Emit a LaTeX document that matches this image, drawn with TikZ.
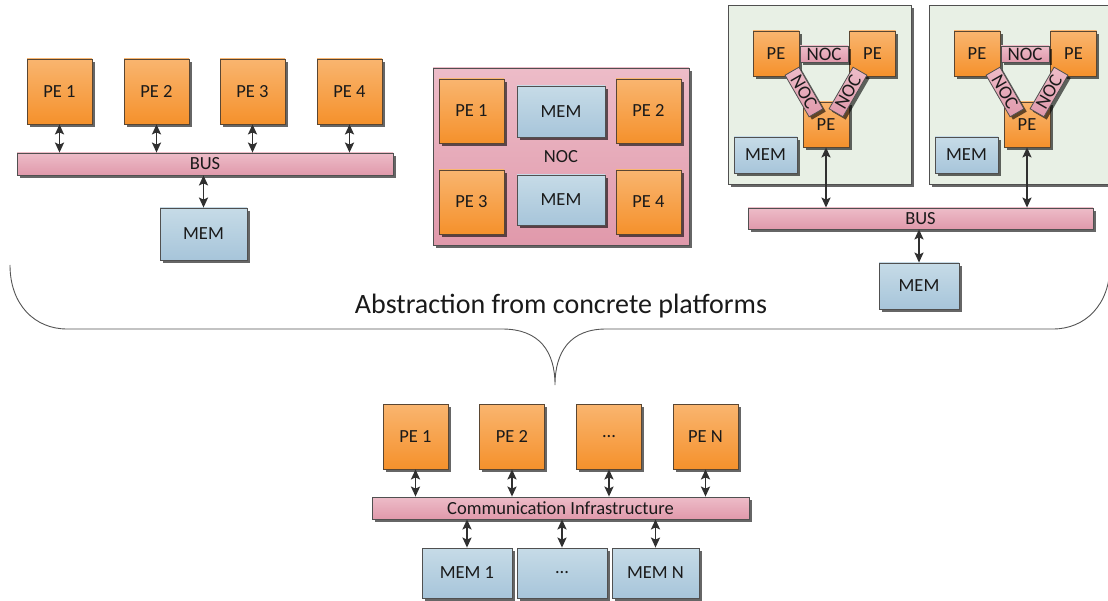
\documentclass[tikz,border=0pt]{standalone}
\usepackage{fontspec}
\setmainfont{Carlito}
\usetikzlibrary{arrows.meta,shadows}

\definecolor{peTop}{HTML}{F9B56F}
\definecolor{peBot}{HTML}{F5912C}
\definecolor{peLine}{HTML}{5A4632}
\definecolor{pkTop}{HTML}{EDBCC8}
\definecolor{pkBot}{HTML}{E099AB}
\definecolor{blTop}{HTML}{C6DBE7}
\definecolor{blBot}{HTML}{A7C5DA}
\definecolor{grFill}{HTML}{E8F0E5}
\definecolor{boxLine}{HTML}{505050}
\definecolor{arrowC}{HTML}{303030}
\definecolor{braceC}{HTML}{555555}
\definecolor{txt}{HTML}{1A1A1A}

\tikzset{
  box/.style={draw=boxLine, line width=0.8pt, inner sep=0pt, text=txt,
    font=\fontsize{18.5}{20}\selectfont,
    drop shadow={shadow xshift=2.8pt, shadow yshift=-2.8pt, fill=black, opacity=0.6}},
  pebox/.style={box, draw=peLine, top color=peTop, bottom color=peBot},
  membox/.style={box, top color=blTop, bottom color=blBot},
  pinkbox/.style={box, top color=pkTop, bottom color=pkBot},
  panel/.style={box, fill=grFill},
  nocbar/.style={pinkbox, minimum width=48pt, minimum height=16pt,
    font=\fontsize{19}{20}\selectfont},
  link/.style={draw=arrowC, line width=1.7pt,
    {Stealth[length=10pt,width=9pt,inset=2pt]}-{Stealth[length=10pt,width=9pt,inset=2pt]}},
  brace/.style={draw=braceC, line width=0.9pt},
}

\begin{document}
\begin{tikzpicture}[x=1pt,y=-1pt]
\useasboundingbox (0,0) rectangle (1108,601);
\clip (0,0) rectangle (1108,601);

% ---------- shared bus platform ----------
\node[pebox, minimum width=65pt, minimum height=65pt] (a1) at (59.5,91.5) {PE 1};
\node[pebox, minimum width=65pt, minimum height=65pt] (a2) at (156.5,91.5) {PE 2};
\node[pebox, minimum width=65pt, minimum height=65pt] (a3) at (252.5,91.5) {PE 3};
\node[pebox, minimum width=65pt, minimum height=65pt] (a4) at (349.5,91.5) {PE 4};
\node[pinkbox, minimum width=376pt, minimum height=22pt] (abus) at (205,164) {BUS};
\node[membox, minimum width=87pt, minimum height=52pt] (amem) at (203.5,234) {MEM};
\foreach \p in {a1,a2,a3,a4}
  \draw[link] (\p.south) -- (\p.south |- abus.north);
\draw[link] (abus.south -| amem.north) -- (amem.north);

% ---------- network-on-chip platform ----------
\node[pinkbox, minimum width=256pt, minimum height=177pt] (noc) at (561,156.5) {};
\node[text=txt, font=\fontsize{18.5}{20}\selectfont] (noclabel) at (561,157) {NOC};
\node[pebox, minimum width=65pt, minimum height=64pt] (b1) at (471.5,111) {PE 1};
\node[membox, minimum width=88pt, minimum height=51pt] (bm1) at (561,111.5) {MEM};
\node[pebox, minimum width=65pt, minimum height=64pt] (b2) at (648.5,111) {PE 2};
\node[pebox, minimum width=65pt, minimum height=64pt] (b3) at (471.5,202) {PE 3};
\node[membox, minimum width=88pt, minimum height=50pt] (bm2) at (561,200) {MEM};
\node[pebox, minimum width=65pt, minimum height=64pt] (b4) at (648.5,202) {PE 4};

% ---------- clustered platform ----------
\foreach \dx/\k in {0/1,201/2} {
  \begin{scope}[xshift=\dx]
    \node[panel, minimum width=183pt, minimum height=179pt] (cl\k) at (819.5,94.5) {};
    \node[pebox, minimum width=46pt, minimum height=45pt] (ctl\k) at (776,53.5) {PE};
    \node[pebox, minimum width=46pt, minimum height=45pt] (ctr\k) at (872.5,53.5) {PE};
    \node[pebox, minimum width=46pt, minimum height=45pt] (cb\k) at (826,124.5) {PE};
    \node[nocbar] (nh\k) at (824,54) {NOC};
    \node[nocbar, rotate=-60] (nl\k) at (804,92) {NOC};
    \node[nocbar, rotate=60] (nr\k) at (848,92) {NOC};
    \node[membox, minimum width=63pt, minimum height=36pt] (cm\k) at (765.5,155) {MEM};
  \end{scope}
}
\node[pinkbox, minimum width=345pt, minimum height=21pt] (cbus) at (920.5,218.5) {BUS};
\node[membox, minimum width=80pt, minimum height=46pt] (cmem) at (919,286) {MEM};
\draw[link] (cb1.south) -- (cb1.south |- cbus.north);
\draw[link] (cb2.south) -- (cb2.south |- cbus.north);
\draw[link] (cbus.south -| cmem.north) -- (cmem.north);

% ---------- brace and caption ----------
\coordinate (bl) at (10,265);
\coordinate (br) at (1110,265);
\coordinate (tip) at (555,385);
\draw[brace] (bl) .. controls (10,305) and (35,329) .. (67,329) -- (502,329)
  .. controls (540,329) and (555,352) .. (tip)
  .. controls (555,352) and (570,329) .. (606,329) -- (1053,329)
  .. controls (1085,329) and (1110,305) .. (br);
\node[text=txt, font=\fontsize{28}{32}\selectfont] (cap) at (561,306) {Abstraction from concrete platforms};

% ---------- abstract platform ----------
\node[pebox, minimum width=65pt, minimum height=65pt] (d1) at (415.5,436.5) {PE 1};
\node[pebox, minimum width=65pt, minimum height=65pt] (d2) at (512,436.5) {PE 2};
\node[pebox, minimum width=65pt, minimum height=65pt] (d3) at (609,436.5) {...};
\node[pebox, minimum width=65pt, minimum height=65pt] (d4) at (705.5,436.5) {PE N};
\node[pinkbox, minimum width=377pt, minimum height=22pt] (comm) at (560.5,508) {Communication Infrastructure};
\node[membox, minimum width=90pt, minimum height=50pt] (m1) at (467,573) {MEM 1};
\node[membox, minimum width=90pt, minimum height=50pt] (m2) at (562,573) {...};
\node[membox, minimum width=87pt, minimum height=50pt] (m3) at (655.5,573) {MEM N};
\foreach \p in {d1,d2,d3,d4}
  \draw[link] (\p.south) -- (\p.south |- comm.north);
\foreach \m in {m1,m2,m3}
  \draw[link] (comm.south -| \m.north) -- (\m.north);
\end{tikzpicture}
\end{document}
